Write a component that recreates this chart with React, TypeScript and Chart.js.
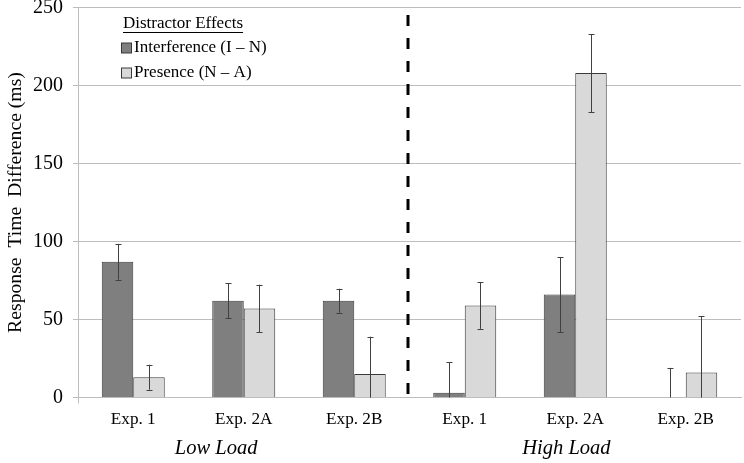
import React, { useEffect, useRef } from 'react';
import { Chart, registerables } from 'chart.js';

Chart.register(...registerables);

const categories = ['Exp. 1', 'Exp. 2A', 'Exp. 2B', 'Exp. 1', 'Exp. 2A', 'Exp. 2B'];
const interference = [87, 62, 62, 3, 66, 0];
const interferenceErr = [11.5, 11.3, 7.7, 19.6, 24, 19];
const presence = [13, 57, 15, 59, 208, 16];
const presenceErr = [8, 15.3, 24, 15, 25, 36];
const yMin = 0;
const yMax = 250;
const yStep = 50;
const groupLabels = ['Low Load', 'High Load'];
const seriesNames = ['Interference (I – N)', 'Presence (N – A)'];
const legendTitle = 'Distractor Effects';
const yTitle = 'Response  Time  Difference (ms)';

const SERIF = '"Liberation Serif", "Times New Roman", serif';
const DARK = '#7f7f7f';
const LIGHT = '#d9d9d9';
const EDGE = '#3a3a3a';
const GRID = '#bdbdbd';

const overlayPlugin = {
  id: 'overlay',
  afterDatasetsDraw(chart: any) {
    const { ctx, chartArea } = chart;
    const yScale = chart.scales.y;
    const errs = [interferenceErr, presenceErr];
    const vals = [interference, presence];
    ctx.save();
    ctx.beginPath();
    ctx.rect(chartArea.left, chartArea.top - 20, chartArea.right - chartArea.left, chartArea.bottom - chartArea.top + 20);
    ctx.clip();
    ctx.strokeStyle = '#404040';
    ctx.lineWidth = 1;
    for (let d = 0; d < 2; d++) {
      const meta = chart.getDatasetMeta(d);
      meta.data.forEach((el: any, j: number) => {
        const v = vals[d][j];
        const e = errs[d][j];
        const x = Math.round(el.x) + 0.5;
        const yt = yScale.getPixelForValue(v + e);
        const yb = yScale.getPixelForValue(v - e);
        ctx.beginPath();
        ctx.moveTo(x, yt);
        ctx.lineTo(x, yb);
        ctx.moveTo(x - 3, Math.round(yt) + 0.5);
        ctx.lineTo(x + 3, Math.round(yt) + 0.5);
        ctx.moveTo(x - 3, Math.round(yb) + 0.5);
        ctx.lineTo(x + 3, Math.round(yb) + 0.5);
        ctx.stroke();
      });
    }
    ctx.restore();
  },
  afterDraw(chart: any) {
    const { ctx, chartArea } = chart;
    const xScale = chart.scales.x;
    ctx.save();
    // dashed separator
    const xs = xScale.getPixelForValue(2.5) - 1.5;
    ctx.strokeStyle = '#000';
    ctx.lineWidth = 3;
    ctx.setLineDash([11, 12]);
    ctx.beginPath();
    ctx.moveTo(xs, chartArea.top + 7.5);
    ctx.lineTo(xs, chartArea.bottom + 8);
    ctx.stroke();
    ctx.setLineDash([]);

    // group labels
    ctx.fillStyle = '#000';
    ctx.font = `italic 20.5px ${SERIF}`;
    ctx.textAlign = 'center';
    ctx.textBaseline = 'middle';
    ctx.fillText(groupLabels[0], xScale.getPixelForValue(0.75), 449);
    ctx.fillText(groupLabels[1], xScale.getPixelForValue(3.92), 449);

    // legend
    const lx = chartArea.left + 45;
    ctx.textAlign = 'left';
    ctx.font = `17px ${SERIF}`;
    ctx.fillText(legendTitle, lx, 24);
    const tw = ctx.measureText(legendTitle).width;
    ctx.strokeStyle = '#000';
    ctx.lineWidth = 1;
    ctx.beginPath();
    ctx.moveTo(lx, 32.5);
    ctx.lineTo(lx + tw, 32.5);
    ctx.stroke();
    const cols = [DARK, LIGHT];
    const ys = [48, 73];
    for (let i = 0; i < 2; i++) {
      ctx.fillStyle = cols[i];
      ctx.fillRect(lx - 1.5, ys[i] - 5, 10, 10);
      ctx.strokeStyle = EDGE;
      ctx.strokeRect(lx - 1.5, ys[i] - 5, 10, 10);
      ctx.fillStyle = '#000';
      ctx.fillText(seriesNames[i], lx + 11, ys[i]);
    }
    ctx.restore();
  },
};

export default function App() {
  const ref = useRef<HTMLCanvasElement | null>(null);
  useEffect(() => {
    document.body.style.margin = '0';
    const canvas = ref.current;
    if (!canvas) return;
    const chart = new Chart(canvas, {
      type: 'bar',
      data: {
        labels: categories,
        datasets: [
          {
            label: seriesNames[0],
            data: interference,
            backgroundColor: DARK,
            borderColor: EDGE,
            borderWidth: (c: any) => (c.raw === 0 ? 0 : 1),
            borderSkipped: 'start',
            categoryPercentage: 0.57,
            barPercentage: 1.0,
          },
          {
            label: seriesNames[1],
            data: presence,
            backgroundColor: LIGHT,
            borderColor: EDGE,
            borderWidth: 1,
            borderSkipped: 'start',
            categoryPercentage: 0.57,
            barPercentage: 1.0,
          },
        ],
      },
      options: {
        animation: false,
        responsive: false,
        devicePixelRatio: 1,
        layout: { padding: { top: 7.5, right: 3, left: 0, bottom: 0 } },
        plugins: {
          legend: { display: false },
          tooltip: { enabled: false },
        },
        scales: {
          x: {
            offset: true,
            grid: {
              offset: true,
              drawOnChartArea: false,
              drawTicks: true,
              tickLength: 6,
              color: (c: any) => (c.index === 0 || c.index === categories.length ? GRID : 'rgba(0,0,0,0)'),
            },
            border: { display: true, color: GRID, width: 1 },
            ticks: {
              color: '#000',
              font: { family: SERIF, size: 17.2 },
              padding: 6,
            },
            afterFit: (s: any) => {
              s.height = 65.5;
              s.paddingLeft = 0;
              s.paddingRight = 0;
            },
          },
          y: {
            min: yMin,
            max: yMax,
            ticks: {
              stepSize: yStep,
              color: '#000',
              font: { family: SERIF, size: 20 },
              padding: 10,
            },
            grid: { color: GRID, lineWidth: 1, drawTicks: true, tickLength: 5 },
            border: { display: true, color: GRID, width: 1 },
            title: {
              display: true,
              text: yTitle,
              color: '#000',
              font: { family: SERIF, size: 19.7 },
              padding: { top: 4, bottom: 0 },
            },
            afterFit: (s: any) => {
              s.width = 78;
              s.paddingTop = 0;
              s.paddingBottom = 0;
            },
          },
        },
      },
      plugins: [overlayPlugin],
    } as any);
    return () => chart.destroy();
  }, []);
  return (
    <div style={{ position: 'absolute', left: 0, top: 0, width: 744, height: 463 }}>
      <canvas ref={ref} width={744} height={463} style={{ width: 744, height: 463, display: 'block' }} />
    </div>
  );
}
